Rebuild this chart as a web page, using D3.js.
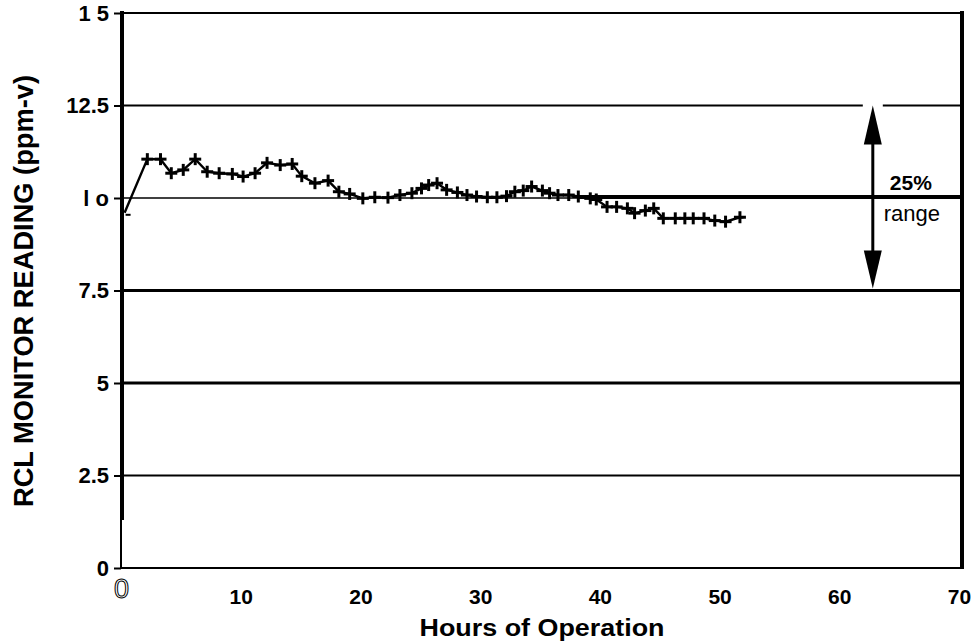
<!DOCTYPE html>
<html>
<head>
<meta charset="utf-8">
<script src="https://cdn.jsdelivr.net/npm/d3@7"></script>
<style>
  body { margin: 0; background: #fff; }
  svg text { font-family: "Liberation Sans", Arial, sans-serif; }
</style>
</head>
<body>
<div id="chart"></div>
<script>
// readings (hours, ppm-v)
const hours = [0.3, 2.2, 3.3, 4.2, 5.2, 6.2, 7.2, 8.2, 9.3, 10.2, 11.2, 12.2, 13.3, 14.3, 15.1, 16.2, 17.3, 18.2, 19.1, 20.2,
  21.2, 22.3, 23.3, 24.3, 25.1, 25.7, 26.4, 27.2, 28.1, 28.9, 29.7, 30.6, 31.4, 32.2, 32.9, 33.6, 34.3, 35.2, 35.8, 36.5,
  37.4, 38.2, 39.2, 39.7, 40.6, 41.4, 42.3, 42.9, 43.8, 44.5, 45.3, 46.3, 47.1, 47.8, 48.7, 49.6, 50.5, 51.7];
const readings = [9.6, 11.05, 11.05, 10.67, 10.76, 11.05, 10.71, 10.67, 10.65, 10.58, 10.67, 10.95, 10.89, 10.92, 10.59, 10.4, 10.47, 10.17, 10.11, 9.99,
  10.02, 10.01, 10.08, 10.13, 10.26, 10.35, 10.4, 10.22, 10.15, 10.08, 10.04, 10.02, 10.02, 10.05, 10.17, 10.2, 10.31, 10.2, 10.13, 10.08,
  10.08, 10.04, 9.99, 9.96, 9.76, 9.76, 9.72, 9.59, 9.66, 9.72, 9.45, 9.45, 9.45, 9.45, 9.45, 9.39, 9.36, 9.48];

const yTicks = [0, 2.5, 5, 7.5, 10, 12.5, 15];
const yLabels = ['0', '2.5', '5', '7.5', 'l o', '12.5', '1 5'];
const xTicks = [0, 10, 20, 30, 40, 50, 60, 70];
const gridVals = [2.5, 5, 7.5, 10, 12.5, 15];
const heavyGrid = [5, 7.5];
const refLevel = 10;      // reference line, drawn heavy from refStart on
const refStart = 38.2;
const rangeTop = 12.5, rangeBottom = 7.5, rangeHour = 62.8;

let w = 974, h = 642;

let xScale = d3.scaleLinear().domain([0, 70]).range([121, 959]);
let yScale = d3.scaleLinear().domain([0, 15]).range([568, 13]);

let svg = d3.select('#chart').append('svg')
            .attr('width', w).attr('height', h);

// grid lines
svg.append('g').selectAll('line')
   .data(gridVals).enter().append('line')
   .attr('x1', xScale(0)).attr('x2', xScale(70) + 2)
   .attr('y1', d => yScale(d)).attr('y2', d => yScale(d))
   .attr('stroke', '#000')
   .attr('stroke-width', d => heavyGrid.includes(d) ? 3 : (d == refLevel ? 1.5 : 2));

svg.append('line')
   .attr('x1', xScale(refStart)).attr('x2', xScale(70) + 2)
   .attr('y1', yScale(refLevel) - 1).attr('y2', yScale(refLevel) - 1)
   .attr('stroke', '#000').attr('stroke-width', 4);

// frame: bottom, left (heavy then thin), right
svg.append('line')
   .attr('x1', xScale(0)).attr('x2', xScale(70) + 4)
   .attr('y1', yScale(0)).attr('y2', yScale(0))
   .attr('stroke', '#000').attr('stroke-width', 2);
svg.append('line')
   .attr('x1', xScale(0) + 1).attr('x2', xScale(0) + 1)
   .attr('y1', yScale(15) - 2).attr('y2', yScale(1.3))
   .attr('stroke', '#000').attr('stroke-width', 4);
svg.append('line')
   .attr('x1', xScale(0)).attr('x2', xScale(0))
   .attr('y1', yScale(1.4)).attr('y2', yScale(0))
   .attr('stroke', '#000').attr('stroke-width', 2);
svg.append('line')
   .attr('x1', xScale(70) + 3).attr('x2', xScale(70) + 3)
   .attr('y1', yScale(15) - 2).attr('y2', yScale(0) + 1)
   .attr('stroke', '#000').attr('stroke-width', 4);

// y axis
let yAxis = d3.axisLeft(yScale).tickValues(yTicks)
              .tickFormat((d, i) => yLabels[i])
              .tickSize(7).tickPadding(5).tickSizeOuter(0);
let gy = svg.append('g').attr('transform', 'translate(' + xScale(0) + ',0)').call(yAxis);
gy.select('.domain').remove();
gy.selectAll('line').attr('stroke', '#000').attr('stroke-width', 2);
gy.selectAll('text')
  .style('font-size', '22px').style('font-weight', 'bold').attr('fill', '#000');

// x axis
let xAxis = d3.axisBottom(xScale).tickValues(xTicks).tickSize(0).tickPadding(21);
let gx = svg.append('g').attr('transform', 'translate(0,' + yScale(0) + ')').call(xAxis);
gx.select('.domain').remove();
gx.selectAll('text')
  .style('font-family', '"Liberation Sans Narrow", "Liberation Sans", Arial, sans-serif')
  .style('font-size', '21px').style('font-weight', 'bold').attr('fill', '#000');
gx.selectAll('text').filter(d => d == 0)
  .attr('y', 11)
  .style('font-weight', 'normal').style('font-size', '27px')
  .attr('fill', '#fff').attr('stroke', '#000').attr('stroke-width', 1);

// readings line with + markers
let pts = hours.map((d, i) => ({ h: d, v: readings[i] }));
let line = d3.line().x(d => xScale(d.h)).y(d => yScale(d.v));
svg.append('path')
   .datum(pts.concat([{ h: 52, v: readings[readings.length - 1] }]))
   .attr('d', line)
   .attr('fill', 'none').attr('stroke', '#000').attr('stroke-width', 2.4);

let marks = svg.append('g').selectAll('g')
   .data(pts.slice(1)).enter().append('g')
   .attr('transform', d => 'translate(' + xScale(d.h) + ',' + yScale(d.v) + ')');
marks.append('line').attr('x1', -6).attr('x2', 6).attr('y1', 0).attr('y2', 0)
     .attr('stroke', '#000').attr('stroke-width', 3);
marks.append('line').attr('x1', 0).attr('x2', 0).attr('y1', -6).attr('y2', 6)
     .attr('stroke', '#000').attr('stroke-width', 3);

// start tick
svg.append('line')
   .attr('x1', xScale(hours[0]) + 1).attr('x2', xScale(hours[0]) + 6)
   .attr('y1', yScale(readings[0]) + 2).attr('y2', yScale(readings[0]) + 2)
   .attr('stroke', '#000').attr('stroke-width', 2);

// 25% range arrow
let ax = xScale(rangeHour);
let yTop = yScale(rangeTop), yBot = yScale(rangeBottom);
svg.append('line')
   .attr('x1', ax - 10).attr('x2', ax + 10).attr('y1', yTop).attr('y2', yTop)
   .attr('stroke', '#fff').attr('stroke-width', 3);
svg.append('line')
   .attr('x1', ax).attr('x2', ax).attr('y1', yTop + 20).attr('y2', yBot - 20)
   .attr('stroke', '#000').attr('stroke-width', 3);
svg.append('path')
   .attr('d', 'M' + ax + ',' + yTop + 'L' + (ax - 9) + ',' + (yTop + 39) + 'L' + (ax + 9) + ',' + (yTop + 39) + 'Z')
   .attr('fill', '#000');
svg.append('path')
   .attr('d', 'M' + ax + ',' + (yBot - 2) + 'L' + (ax - 9) + ',' + (yBot - 40) + 'L' + (ax + 9) + ',' + (yBot - 40) + 'Z')
   .attr('fill', '#000');
svg.append('text')
   .attr('x', ax + 38).attr('y', yScale(refLevel) - 8)
   .attr('text-anchor', 'middle')
   .style('font-size', '21px').style('font-weight', 'bold')
   .text('25%');
svg.append('text')
   .attr('x', ax + 39).attr('y', yScale(refLevel) + 23)
   .attr('text-anchor', 'middle')
   .style('font-size', '22px')
   .text('range');

// axis titles
svg.append('text')
   .attr('x', 542).attr('y', 636)
   .attr('text-anchor', 'middle')
   .attr('textLength', 245).attr('lengthAdjust', 'spacingAndGlyphs')
   .style('font-size', '23px').style('font-weight', 'bold')
   .text('Hours of Operation');
svg.append('text')
   .attr('transform', 'translate(33,291) rotate(-90)')
   .attr('text-anchor', 'middle')
   .attr('textLength', 432).attr('lengthAdjust', 'spacingAndGlyphs')
   .style('font-size', '27px').style('font-weight', 'bold')
   .text('RCL MONITOR READING (ppm-v)');
</script>
</body>
</html>
